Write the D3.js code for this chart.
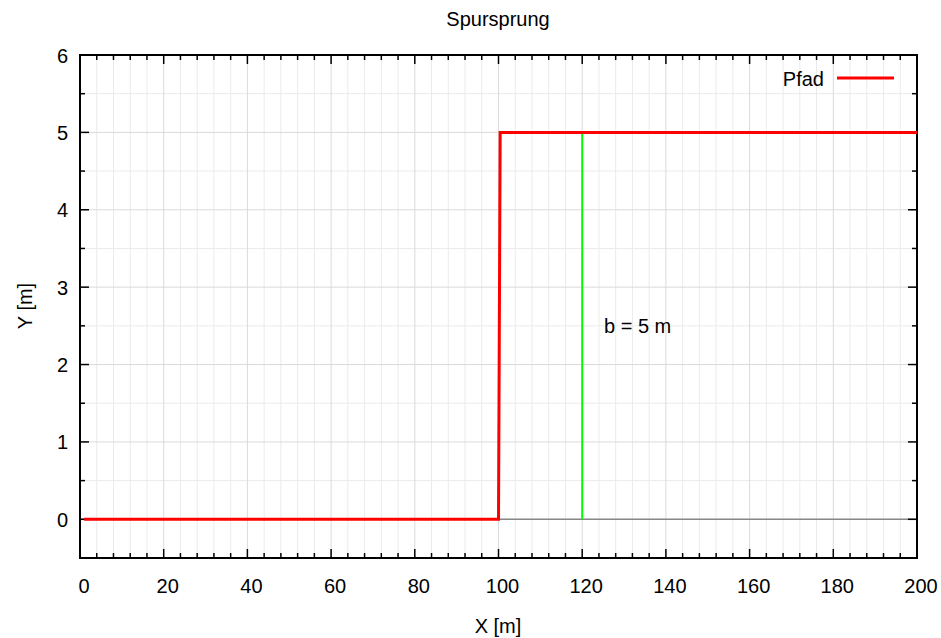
<!DOCTYPE html>
<html>
<head>
<meta charset="utf-8">
<script src="https://cdn.jsdelivr.net/npm/d3@7"></script>
<style>
  html, body { margin: 0; padding: 0; background: #fff; }
  svg { display: block; font-family: "Liberation Sans", Arial, sans-serif; }
</style>
</head>
<body>
<svg id="chart" width="941" height="638"></svg>
<script>
// Path of the lane change: x [m], y [m]
const pathX = [1, 100, 100.4, 200];
const pathY = [0, 0, 5, 5];
// Width marker of the step
const markerX = [120, 120];
const markerY = [0, 5];
const markerLabel = "b = 5 m";
// Axis ticks
const xTicks = [0, 20, 40, 60, 80, 100, 120, 140, 160, 180, 200];
const yTicks = [0, 1, 2, 3, 4, 5, 6];
const xMinor = d3.range(0, 201, 4);
const yMinor = d3.range(-0.5, 6.01, 0.5);

const svg = d3.select("#chart");
const m = { left: 80, right: 24, top: 55, bottom: 80 };
const W = 941, H = 638;
const FS = 20;

const x = d3.scaleLinear().domain([0, 200]).range([m.left, W - m.right]);
const y = d3.scaleLinear().domain([-0.5, 6]).range([H - m.bottom, m.top]);

const g = svg.append("g");

// minor grid
g.selectAll(".gx").data(xMinor.filter(v => v % 20 !== 0)).enter().append("line")
  .attr("x1", d => x(d)).attr("x2", d => x(d))
  .attr("y1", y(-0.5)).attr("y2", y(6))
  .attr("stroke", "#ebebeb").attr("stroke-width", 1);
g.selectAll(".gy").data(yMinor.filter(v => v % 1 !== 0)).enter().append("line")
  .attr("y1", d => y(d)).attr("y2", d => y(d))
  .attr("x1", x(0)).attr("x2", x(200))
  .attr("stroke", "#ebebeb").attr("stroke-width", 1);
// major grid
g.selectAll(".gX").data(xTicks).enter().append("line")
  .attr("x1", d => x(d)).attr("x2", d => x(d))
  .attr("y1", y(-0.5)).attr("y2", y(6))
  .attr("stroke", "#dadada").attr("stroke-width", 1);
g.selectAll(".gY").data(yTicks).enter().append("line")
  .attr("y1", d => y(d)).attr("y2", d => y(d))
  .attr("x1", x(0)).attr("x2", x(200))
  .attr("stroke", "#dadada").attr("stroke-width", 1);

// zero axis
g.append("line")
  .attr("x1", x(0)).attr("x2", x(200)).attr("y1", y(0)).attr("y2", y(0))
  .attr("stroke", "#888").attr("stroke-width", 1.5);

// ticks (inward, mirrored)
const tickG = g.append("g").attr("stroke", "#000").attr("stroke-width", 1.5);
xMinor.forEach(v => {
  const len = v % 20 === 0 ? 9 : 5;
  tickG.append("line").attr("x1", x(v)).attr("x2", x(v)).attr("y1", y(-0.5)).attr("y2", y(-0.5) - len);
  tickG.append("line").attr("x1", x(v)).attr("x2", x(v)).attr("y1", y(6)).attr("y2", y(6) + len);
});
yMinor.forEach(v => {
  const len = v % 1 === 0 ? 9 : 5;
  tickG.append("line").attr("y1", y(v)).attr("y2", y(v)).attr("x1", x(0)).attr("x2", x(0) + len);
  tickG.append("line").attr("y1", y(v)).attr("y2", y(v)).attr("x1", x(200)).attr("x2", x(200) - len);
});

// frame
g.append("rect")
  .attr("x", x(0)).attr("y", y(6))
  .attr("width", x(200) - x(0)).attr("height", y(-0.5) - y(6))
  .attr("fill", "none").attr("stroke", "#000").attr("stroke-width", 2);

// tick labels
g.selectAll(".xl").data(xTicks).enter().append("text")
  .attr("x", d => x(d) + 4).attr("y", y(-0.5) + 35)
  .attr("text-anchor", "middle").attr("font-size", FS).text(d => d);
g.selectAll(".yl").data(yTicks).enter().append("text")
  .attr("x", x(0) - 12).attr("y", d => y(d) + 7.5)
  .attr("text-anchor", "end").attr("font-size", FS).text(d => d);

// marker line and label
const line = d3.line().x(d => x(d[0])).y(d => y(d[1]));
g.append("path")
  .attr("d", line(markerX.map((v, i) => [v, markerY[i]])))
  .attr("fill", "none").attr("stroke", "#00ff00").attr("stroke-width", 2);
g.append("text")
  .attr("x", 604).attr("y", y(2.5) + 7.5)
  .attr("font-size", FS).text(markerLabel);

// path
g.append("path")
  .attr("d", line(pathX.map((v, i) => [v, pathY[i]])))
  .attr("fill", "none").attr("stroke", "#ff0000").attr("stroke-width", 3)
  .attr("stroke-linejoin", "miter");

// legend
g.append("text").attr("x", 824).attr("y", 86)
  .attr("text-anchor", "end").attr("font-size", FS).text("Pfad");
g.append("line").attr("x1", 837).attr("x2", 894).attr("y1", 78).attr("y2", 78)
  .attr("stroke", "#ff0000").attr("stroke-width", 3);

// titles
svg.append("text").attr("x", 498).attr("y", 26)
  .attr("text-anchor", "middle").attr("font-size", FS).text("Spursprung");
svg.append("text").attr("x", 498).attr("y", 633)
  .attr("text-anchor", "middle").attr("font-size", FS).text("X [m]");
svg.append("text").attr("transform", "translate(32,306) rotate(-90)")
  .attr("text-anchor", "middle").attr("font-size", FS).text("Y [m]");
</script>
</body>
</html>
